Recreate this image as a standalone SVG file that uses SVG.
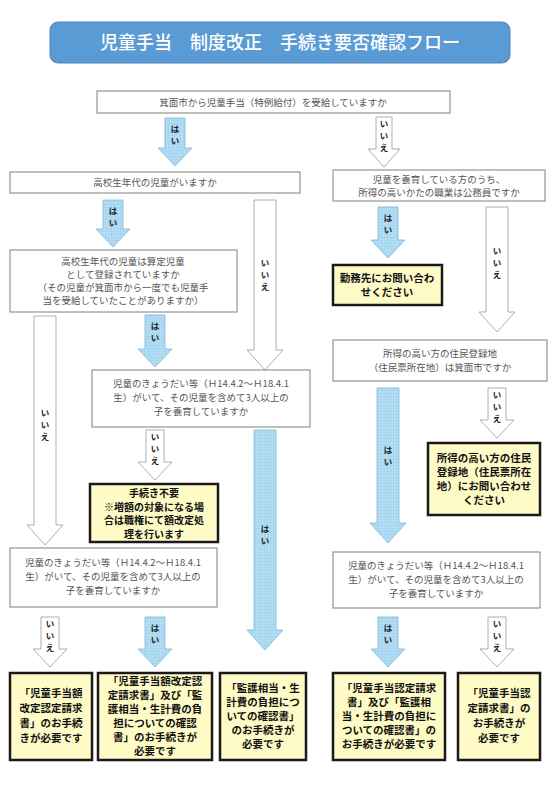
<svg xmlns="http://www.w3.org/2000/svg" width="555" height="800" viewBox="0 0 555 800">
<defs>
<pattern id="grid" width="3" height="3" patternUnits="userSpaceOnUse">
<rect width="3" height="3" fill="#b3def3"/>
<path d="M0 0H3M0 0V3" stroke="#94c9e6" stroke-width="0.7"/>
</pattern>
</defs>
<style>
.q{fill:#fff;stroke:#808080;stroke-width:1}
.y{fill:#fefbc6;stroke:#1a1a1a;stroke-width:2.5}
.t{font-family:"Noto Sans CJK JP","Noto Sans",sans-serif;font-size:9.5px;fill:#555;text-anchor:middle}
.b{font-family:"Noto Sans CJK JP","Noto Sans",sans-serif;font-size:10.5px;font-weight:bold;fill:#111;text-anchor:middle}
.s{font-size:10px}
.ay{fill:url(#grid);stroke:#7db6d8;stroke-width:0.8}
.an{fill:#fff;stroke:#9a9a9a;stroke-width:0.8}
.l{font-family:"Noto Sans CJK JP","Noto Sans",sans-serif;font-size:8.5px;font-weight:bold;fill:#222;text-anchor:middle}
.ttl{font-family:"Noto Sans CJK JP","Noto Sans",sans-serif;font-size:18px;fill:#fff;text-anchor:middle;font-weight:500}
</style>
<rect width="555" height="800" fill="#fff"/>

<g id="title">
<rect x="50" y="22" width="460" height="41" rx="8" fill="#5b9bd5" stroke="#4a86c0" stroke-width="1"/>
<text class="ttl" x="280" y="49">児童手当　制度改正　手続き要否確認フロー</text>
</g>

<g id="connectors">
<path class="ay" d="M165 118H185V148H192L175 166L158 148H165Z"/>
<text class="l" x="175" y="132">は</text><text class="l" x="175" y="144">い</text>
<path class="an" d="M376 117H392V149H400L384 167L368 149H376Z"/>
<text class="l" x="384" y="127">い</text><text class="l" x="384" y="139">い</text><text class="l" x="384" y="151">え</text>

<path class="ay" d="M103 200H123V229H130L113 247L96 229H103Z"/>
<text class="l" x="113" y="214">は</text><text class="l" x="113" y="226">い</text>
<path class="an" d="M254 200H276V350H283L265 370L247 350H254Z"/>
<text class="l" x="265" y="266">い</text><text class="l" x="265" y="278">い</text><text class="l" x="265" y="290">え</text>

<path class="ay" d="M378 207H398V240H405L388 258L371 240H378Z"/>
<text class="l" x="388" y="221">は</text><text class="l" x="388" y="233">い</text>
<path class="an" d="M486 207H508V312H515L497 332L479 312H486Z"/>
<text class="l" x="497" y="254">い</text><text class="l" x="497" y="266">い</text><text class="l" x="497" y="278">え</text>

<path class="ay" d="M145 315H165V349H172L155 367L138 349H145Z"/>
<text class="l" x="155" y="329">は</text><text class="l" x="155" y="341">い</text>
<path class="an" d="M34 316H56V525H63L45 545L27 525H34Z"/>
<text class="l" x="45" y="416">い</text><text class="l" x="45" y="428">い</text><text class="l" x="45" y="440">え</text>

<path class="an" d="M146 430H164V462H172L155 480L138 462H146Z"/>
<text class="l" x="155" y="440">い</text><text class="l" x="155" y="452">い</text><text class="l" x="155" y="464">え</text>
<path class="ay" d="M254 430H276V630H283L265 650L247 630H254Z"/>
<text class="l" x="265" y="532">は</text><text class="l" x="265" y="544">い</text>

<path class="ay" d="M377 388H399V523H406L388 543L370 523H377Z"/>
<text class="l" x="388" y="453">は</text><text class="l" x="388" y="465">い</text>
<path class="an" d="M488 388H506V420H514L497 438L480 420H488Z"/>
<text class="l" x="497" y="398">い</text><text class="l" x="497" y="410">い</text><text class="l" x="497" y="422">え</text>

<path class="an" d="M41 617H59V649H67L50 667L33 649H41Z"/>
<text class="l" x="50" y="627">い</text><text class="l" x="50" y="639">い</text><text class="l" x="50" y="651">え</text>
<path class="ay" d="M145 617H165V649H172L155 667L138 649H145Z"/>
<text class="l" x="155" y="631">は</text><text class="l" x="155" y="643">い</text>
<path class="ay" d="M378 617H398V649H405L388 667L371 649H378Z"/>
<text class="l" x="388" y="631">は</text><text class="l" x="388" y="643">い</text>
<path class="an" d="M488 617H506V649H514L497 667L480 649H488Z"/>
<text class="l" x="497" y="627">い</text><text class="l" x="497" y="639">い</text><text class="l" x="497" y="651">え</text>
</g>

<g id="q1"><rect class="q" x="97" y="91" width="353" height="22"/>
<text class="t" x="273" y="106">箕面市から児童手当（特例給付）を受給していますか</text></g>

<g id="q2"><rect class="q" x="10" y="172" width="290" height="21"/>
<text class="t" x="155" y="186">高校生年代の児童がいますか</text></g>

<g id="q3"><rect class="q" x="333" y="170" width="212" height="31"/>
<text class="t" x="439" y="183">児童を養育している方のうち、</text>
<text class="t" x="439" y="196">所得の高いかたの職業は公務員ですか</text></g>

<g id="r1"><rect class="y" x="333" y="265" width="109" height="40"/>
<text class="b" x="387" y="282">勤務先にお問い合わ</text>
<text class="b" x="387" y="296">せください</text></g>

<g id="q4"><rect class="q" x="10" y="250" width="227" height="62"/>
<text class="t" x="123" y="265">高校生年代の児童は算定児童</text>
<text class="t" x="123" y="278">として登録されていますか</text>
<text class="t" x="123" y="291">（その児童が箕面市から一度でも児童手</text>
<text class="t" x="123" y="304">当を受給していたことがありますか）</text></g>

<g id="q5"><rect class="q" x="333" y="340" width="214" height="41"/>
<text class="t" x="440" y="357">所得の高い方の住民登録地</text>
<text class="t" x="440" y="371">（住民票所在地）は箕面市ですか</text></g>

<g id="q6"><rect class="q" x="92" y="370" width="218" height="57"/>
<text class="t" x="201" y="387">児童のきょうだい等（Ｈ14.4.2～Ｈ18.4.1</text>
<text class="t" x="201" y="401">生）がいて、その児童を含めて3人以上の</text>
<text class="t" x="201" y="415">子を養育していますか</text></g>

<g id="r2"><rect class="y" x="90" y="484" width="128" height="58"/>
<text class="b s" x="154" y="497">手続き不要</text>
<text class="b s" x="154" y="510.5">※増額の対象になる場</text>
<text class="b s" x="154" y="524">合は職権にて額改定処</text>
<text class="b s" x="154" y="537.5">理を行います</text></g>

<g id="r3"><rect class="y" x="428" y="443" width="112" height="72"/>
<text class="b" x="484" y="462">所得の高い方の住民</text>
<text class="b" x="484" y="476">登録地（住民票所在</text>
<text class="b" x="484" y="490">地）にお問い合わせ</text>
<text class="b" x="484" y="504">ください</text></g>

<g id="q7"><rect class="q" x="10" y="548" width="207" height="59"/>
<text class="t" x="113" y="566">児童のきょうだい等（Ｈ14.4.2～Ｈ18.4.1</text>
<text class="t" x="113" y="580">生）がいて、その児童を含めて3人以上の</text>
<text class="t" x="113" y="594">子を養育していますか</text></g>

<g id="q8"><rect class="q" x="333" y="552" width="207" height="56"/>
<text class="t" x="436" y="569">児童のきょうだい等（Ｈ14.4.2～Ｈ18.4.1</text>
<text class="t" x="436" y="583">生）がいて、その児童を含めて3人以上の</text>
<text class="t" x="436" y="597">子を養育していますか</text></g>

<g id="r4"><rect class="y" x="10" y="673" width="82" height="87"/>
<text class="b" x="51" y="697">「児童手当額</text>
<text class="b" x="51" y="712">改定認定請求</text>
<text class="b" x="51" y="727">書」のお手続</text>
<text class="b" x="51" y="742">きが必要です</text></g>

<g id="r5"><rect class="y" x="98" y="673" width="114" height="87"/>
<text class="b" x="155" y="685">「児童手当額改定認</text>
<text class="b" x="155" y="699">定請求書」及び「監</text>
<text class="b" x="155" y="713">護相当・生計費の負</text>
<text class="b" x="155" y="727">担についての確認</text>
<text class="b" x="155" y="741">書」のお手続きが</text>
<text class="b" x="155" y="755">必要です</text></g>

<g id="r6"><rect class="y" x="220" y="673" width="86" height="87"/>
<text class="b" x="263" y="692">「監護相当・生</text>
<text class="b" x="263" y="706">計費の負担につ</text>
<text class="b" x="263" y="720">いての確認書」</text>
<text class="b" x="263" y="734">のお手続きが</text>
<text class="b" x="263" y="748">必要です</text></g>

<g id="r7"><rect class="y" x="333" y="673" width="112" height="87"/>
<text class="b" x="389" y="692">「児童手当認定請求</text>
<text class="b" x="389" y="706">書」及び「監護相</text>
<text class="b" x="389" y="720">当・生計費の負担に</text>
<text class="b" x="389" y="734">ついての確認書」の</text>
<text class="b" x="389" y="748">お手続きが必要です</text></g>

<g id="r8"><rect class="y" x="458" y="673" width="82" height="87"/>
<text class="b" x="499" y="697">「児童手当認</text>
<text class="b" x="499" y="712">定請求書」の</text>
<text class="b" x="499" y="727">お手続きが</text>
<text class="b" x="499" y="742">必要です</text></g>
</svg>
